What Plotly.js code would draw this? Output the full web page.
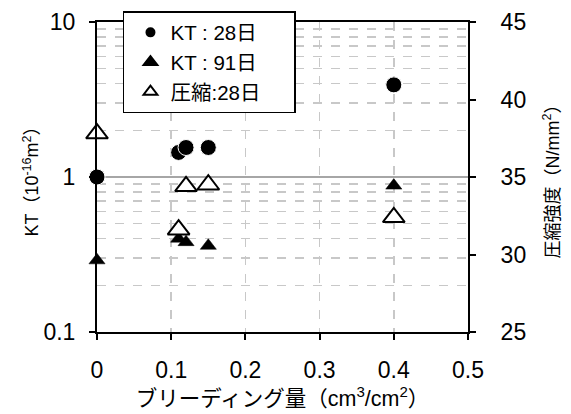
<!DOCTYPE html>
<html>
<head>
<meta charset="utf-8">
<script src="https://cdn.plot.ly/plotly-3.0.1.min.js"></script>
<style>html,body{margin:0;padding:0;background:#fff;}#chart{width:571px;height:414px;}</style>
</head>
<body>
<div id="chart"></div>
<script>
// ブリーディング量 (cm3/cm2)
const bleeding = [0, 0.11, 0.12, 0.15, 0.4];
// KT 28日 (10^-16 m2)
const kt28 = [1.0, 1.44, 1.55, 1.55, 3.93];
// KT 91日 (10^-16 m2)
const kt91 = [0.29, 0.40, 0.38, 0.36, 0.88];
// 圧縮強度 28日 (N/mm2)
const comp28 = [37.8, 31.6, 34.4, 34.5, 32.4];

const seriesNames = ['KT : 28日', 'KT : 91日', '圧縮:28日'];
const xTickVals = [0, 0.1, 0.2, 0.3, 0.4, 0.5];
const yTickVals = [0.1, 1, 10];
const y2TickVals = [25, 30, 35, 40, 45];

const FONT = 'Liberation Sans, Arial, Noto Sans CJK JP, sans-serif';
const PAD = '\u00a0\u00a0\u00a0\u00a0\u00a0';

const traces = [
  {x: bleeding, y: kt28, name: seriesNames[0] + PAD, type: 'scatter', mode: 'markers', cliponaxis: false,
   marker: {symbol: 'circle', size: 16, color: '#000', line: {color: '#fff', width: 1}}, yaxis: 'y'},
  {x: bleeding, y: kt91, name: seriesNames[1] + PAD, type: 'scatter', mode: 'markers', cliponaxis: false,
   marker: {symbol: 'triangle-up', size: 14, color: '#000', line: {color: '#000', width: 0.5}}, yaxis: 'y'},
  {x: bleeding, y: comp28, name: seriesNames[2] + PAD, type: 'scatter', mode: 'markers', cliponaxis: false,
   marker: {symbol: 'triangle-up', size: 19, color: '#fff', line: {color: '#000', width: 2}}, yaxis: 'y2'}
];

const layout = {
  width: 571, height: 414,
  margin: {l: 97, r: 103, t: 21, b: 82},
  paper_bgcolor: '#fff', plot_bgcolor: '#fff',
  font: {family: FONT, size: 23, color: '#000'},
  showlegend: true,
  legend: {
    x: 0.07, y: 1.032, xanchor: 'left', yanchor: 'top',
    bgcolor: '#fff', bordercolor: '#000', borderwidth: 1.5,
    font: {family: FONT, size: 20.5, color: '#000'},
    itemsizing: 'constant', indentation: 6
  },
  xaxis: {
    range: [0, 0.5], tickmode: 'array', tickvals: xTickVals, ticktext: xTickVals.map(String),
    showline: true, linecolor: '#000', linewidth: 2, mirror: true,
    ticks: 'outside', ticklen: 6, tickwidth: 2, tickcolor: '#000',
    ticklabelstandoff: 10,
    showgrid: true, gridcolor: '#c8c8c8', griddash: 'dash', gridwidth: 1.5,
    zeroline: false,
    title: {text: 'ブリーディング量（cm<sup>3</sup>/cm<sup>2</sup>）', font: {family: FONT, size: 21.5}, standoff: 4}
  },
  yaxis: {
    type: 'log', range: [-1, 1], tickmode: 'array', tickvals: yTickVals, ticktext: yTickVals.map(String),
    showline: true, linecolor: '#000', linewidth: 2, mirror: false,
    ticks: 'outside', ticklen: 6, tickwidth: 2, tickcolor: '#000',
    ticklabelstandoff: 9,
    showgrid: true, gridcolor: '#a6a6a6', gridwidth: 2,
    minor: {dtick: 'D1', showgrid: true, gridcolor: '#c8c8c8', griddash: 'dash', gridwidth: 1.5, ticks: ''},
    zeroline: false,
    title: {text: 'KT（10<sup>-16</sup>m<sup>2</sup>）', font: {family: FONT, size: 18}, standoff: 0}
  },
  yaxis2: {
    overlaying: 'y', side: 'right', range: [25, 45], tickmode: 'array', tickvals: y2TickVals, ticktext: y2TickVals.map(String),
    showline: true, linecolor: '#000', linewidth: 2,
    ticks: 'outside', ticklen: 6, tickwidth: 2, tickcolor: '#000',
    ticklabelstandoff: 20,
    showgrid: false, zeroline: false,
    title: {text: '圧縮強度（N/mm<sup>2</sup>）', font: {family: FONT, size: 18}, standoff: 21}
  }
};

Plotly.newPlot('chart', traces, layout, {displayModeBar: false, staticPlot: true});
</script>
</body>
</html>
